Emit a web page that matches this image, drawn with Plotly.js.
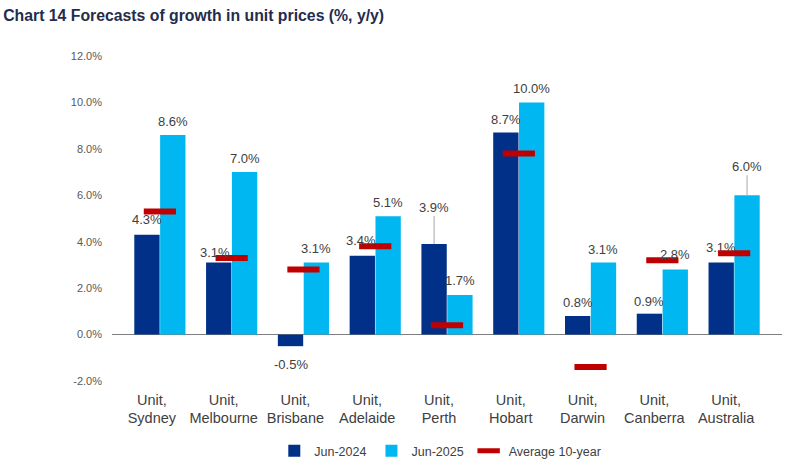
<!DOCTYPE html>
<html>
<head>
<meta charset="utf-8">
<script src="https://cdn.plot.ly/plotly-3.0.1.min.js"></script>
<style>html,body{margin:0;padding:0;background:#fff;}#chart{width:792px;height:469px;}</style>
</head>
<body>
<div id="chart"></div>
<script>
// ---- data ----
var categories = ["Unit,<br>Sydney", "Unit,<br>Melbourne", "Unit,<br>Brisbane", "Unit,<br>Adelaide", "Unit,<br>Perth", "Unit,<br>Hobart", "Unit,<br>Darwin", "Unit,<br>Canberra", "Unit,<br>Australia"];
var jun2024 = [4.3, 3.1, -0.5, 3.4, 3.9, 8.7, 0.8, 0.9, 3.1];
var jun2025 = [8.6, 7.0, 3.1, 5.1, 1.7, 10.0, 3.1, 2.8, 6.0];
var avg10yr = [5.3, 3.3, 2.8, 3.8, 0.4, 7.8, -1.4, 3.2, 3.5];
var seriesNames = ["Jun-2024", "Jun-2025", "Average 10-year"];
var yTicks = [-2, 0, 2, 4, 6, 8, 10, 12];

// ---- label placement (pixels) ----
var shift2024 = [15, 10, -18, 15, 37, 13, 14, 12, 15];
var shift2025 = [13, 14, 14, 14, 15, 14, 13, 15, 29];
var xshift2024 = [0, -4, 0, -1, 0, 0, 0, 0, 0];
var arrow2024 = [false, false, false, false, true, false, false, false, false];
var arrow2025 = [false, false, false, false, false, false, false, false, true];

var FONT = '"Liberation Sans", Arial, sans-serif';
var DARK = '#003087';
var CYAN = '#00B7F1';
var RED = '#C00000';
var BARGAP = 0.28;
var half = (1 - BARGAP) / 4; // centre offset of each bar in a group of two

var traces = [
  {type: 'bar', name: seriesNames[0], x: categories, y: jun2024, marker: {color: DARK}, hoverinfo: 'y'},
  {type: 'bar', name: seriesNames[1], x: categories, y: jun2025, marker: {color: CYAN}, hoverinfo: 'y'},
  {type: 'scatter', mode: 'markers', name: seriesNames[2], x: categories, y: avg10yr,
   marker: {symbol: 'line-ew', size: 23, color: RED, line: {color: RED, width: 6}}, hoverinfo: 'y'}
];

var annotations = [];
function fmt(v){ return v.toFixed(1) + '%'; }
for (var i = 0; i < categories.length; i++) {
  [[jun2024, shift2024, arrow2024, -half, xshift2024], [jun2025, shift2025, arrow2025, half, null]].forEach(function(s){
    var v = s[0][i], sh = s[1][i], arr = s[2][i];
    var a = {x: i + s[3], y: v, xref: 'x', yref: 'y', text: fmt(v),
             font: {family: FONT, size: 13, color: '#404040'}, yanchor: 'middle', xanchor: 'center'};
    if (arr) {
      a.showarrow = true; a.arrowhead = 0; a.arrowwidth = 1; a.arrowcolor = '#A6A6A6';
      a.ax = 0; a.ay = -sh; a.standoff = 0;
    } else {
      a.showarrow = false; a.yshift = sh;
    }
    if (s[4]) a.xshift = s[4][i];
    annotations.push(a);
  });
}

var layout = {
  width: 792, height: 469,
  margin: {l: 112, r: 10, t: 56, b: 88},
  paper_bgcolor: '#ffffff', plot_bgcolor: '#ffffff',
  title: {text: '<b>Chart 14 Forecasts of growth in unit prices (%, y/y)</b>',
          font: {family: FONT, size: 15.8, color: '#1F2D4E'},
          x: 0.004, xanchor: 'left', xref: 'container', y: 0.966, yanchor: 'middle', yref: 'container'},
  barmode: 'group', bargap: BARGAP, bargroupgap: 0.02,
  xaxis: {type: 'category', showgrid: false, showline: false, ticks: '', zeroline: false,
          tickfont: {family: FONT, size: 14.5, color: '#404040'}, ticklabelshift: -8, ticklabelstandoff: 8},
  yaxis: {range: [-2, 12], tickvals: yTicks, ticktext: yTicks.map(function(t){return t.toFixed(1) + '%';}),
          showgrid: false, showline: false, ticks: '', zeroline: true, zerolinecolor: '#7F7F7F', zerolinewidth: 1,
          tickfont: {family: FONT, size: 11, color: '#595959'}, ticklabelstandoff: 9},
  showlegend: true,
  legend: {orientation: 'h', x: 0.49, xanchor: 'center', y: 0.038, yanchor: 'middle', yref: 'container',
           font: {family: FONT, size: 12.5, color: '#404040'}, itemwidth: 30, tracegroupgap: 0,
           bgcolor: 'rgba(0,0,0,0)'},
  annotations: annotations
};

Plotly.newPlot('chart', traces, layout, {displayModeBar: false, staticPlot: true});
</script>
</body>
</html>
